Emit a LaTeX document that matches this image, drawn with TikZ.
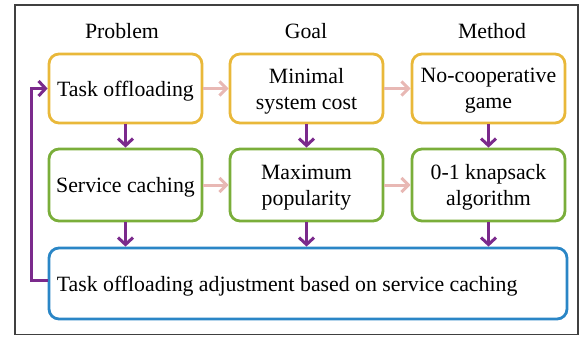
\documentclass[tikz,border=0pt]{standalone}
\usepackage{fontspec}
\setmainfont{Liberation Serif}
\usetikzlibrary{arrows.meta}
\definecolor{ybox}{HTML}{E9B83A}
\definecolor{gbox}{HTML}{7AAE3A}
\definecolor{bbox}{HTML}{2A86C6}
\definecolor{purp}{HTML}{7B2A8C}
\definecolor{pinkarr}{HTML}{E8B8B4}
\definecolor{frame}{HTML}{404040}
\tikzset{
  lab/.style={font=\fontsize{21.8}{26}\selectfont, align=center, inner sep=0pt, yshift=-2.5pt},
  base/.style={draw, line width=2.8pt, rounded corners=10pt, inner sep=0pt},
  txt/.style={label={[lab]center:{#1}}},
  ybx/.style={base, draw=ybox, minimum width=153pt, minimum height=69pt},
  gbx/.style={base, draw=gbox, minimum width=153pt, minimum height=72pt},
  bbx/.style={base, draw=bbox, minimum width=518pt, minimum height=71pt},
  head/.style={font=\fontsize{21.8}{26}\selectfont},
  parr/.style={draw=purp, line width=3pt, -{Straight Barb[length=7pt,width=15pt,line width=3pt]}},
  karr/.style={draw=pinkarr, line width=3pt, -{Straight Barb[length=7pt,width=14pt,line width=3pt]}},
}
\begin{document}
\begin{tikzpicture}[x=1pt,y=-1pt]
\useasboundingbox (0,0) rectangle (581,337);
\draw[frame, line width=1.3pt] (15,5) rectangle (578,334.5);
\node[head] (hp) at (122,31) {Problem};
\node[head] (hg) at (306,31) {Goal};
\node[head] (hm) at (492,31) {Method};
\node[ybx, txt={Task offloading}] (a1) at (125.5,88.5) {};
\node[ybx, txt={Minimal\\system cost}] (a2) at (306.5,88.5) {};
\node[ybx, txt={No-cooperative\\game}] (a3) at (488.5,88.5) {};
\node[gbx, txt={Service caching}] (b1) at (125.5,185) {};
\node[gbx, txt={Maximum\\popularity}] (b2) at (306.5,185) {};
\node[gbx, txt={0-1 knapsack\\algorithm}] (b3) at (488.5,185) {};
\node[bbx, label={[lab, anchor=west, xshift=9pt]west:{Task offloading adjustment based on service caching}}] (c) at (308,283.5) {};
\draw[karr] (a1) -- (a2);
\draw[karr] (a2) -- (a3);
\draw[karr] (b1) -- (b2);
\draw[karr] (b2) -- (b3);
\draw[parr] (a1) -- (b1);
\draw[parr] (a2) -- (b2);
\draw[parr] (a3) -- (b3);
\draw[parr] (b1) -- (b1 |- c.north);
\draw[parr] (b2) -- (b2 |- c.north);
\draw[parr] (b3) -- (b3 |- c.north);
\coordinate (fb) at (31,0);
\draw[parr] ([yshift=3pt]c.west) -| (fb |- a1.west) -- (a1.west);
\end{tikzpicture}
\end{document}
